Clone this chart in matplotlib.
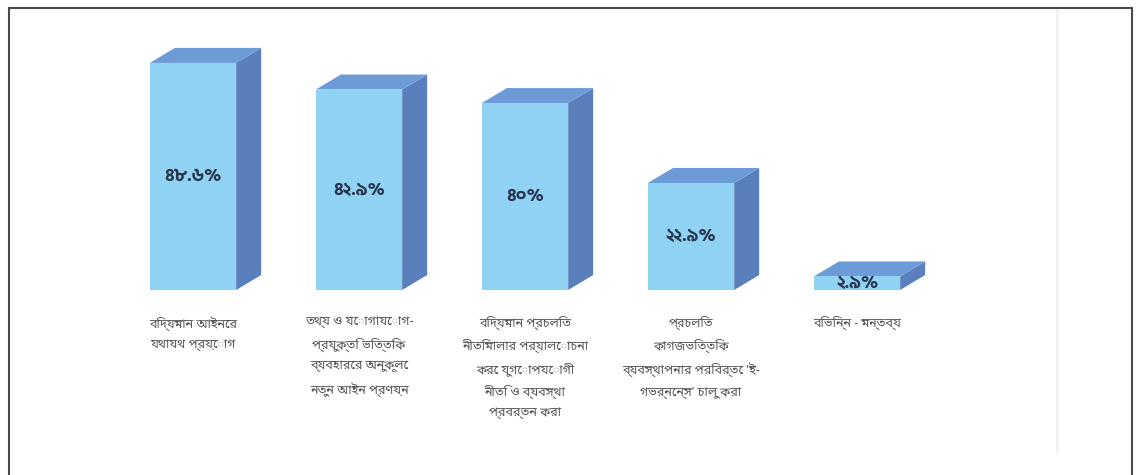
import matplotlib
matplotlib.use('Agg')
import matplotlib.pyplot as plt
from matplotlib.patches import Polygon, Rectangle

family = ['Noto Sans Bengali', 'DejaVu Sans']
bold_family = ['Hind Siliguri', 'Noto Sans Bengali', 'DejaVu Sans']

categories = [
    'বিদ্যমান আইনের\nযথাযথ প্রয়োগ',
    'তথ্য ও যোগাযোগ-\nপ্রযুক্তি ভিত্তিক\nব্যবহারের অনুকূলে\nনতুন আইন প্রণয়ন',
    'বিদ্যমান প্রচলিত\nনীতিমালার পর্যালোচনা\nকরে যুগোপযোগী\nনীতি ও ব্যবস্থা\nপ্রবর্তন করা',
    'প্রচলিত\nকাগজভিত্তিক\nব্যবস্থাপনার পরিবর্তে \'ই-\nগভর্নেন্স\' চালু করা',
    'বিভিন্ন - মন্তব্য',
]
values = [48.6, 42.9, 40.0, 22.9, 2.9]
value_labels = ['৪৮.৬%', '৪২.৯%', '৪০%', '২২.৯%', '২.৯%']

front_c = '#8fd2f3'
side_c = '#5a7fbd'
top_c = '#6c9bd7'

fig = plt.figure(figsize=(11.39, 4.75), dpi=100)
ax = fig.add_axes([110 / 1139, 185 / 475, 830 / 1139, 250 / 475])
ax.set_xlim(-0.5, 4.5)
ax.set_ylim(0, 53.5)
ax.axis('off')

w = 0.52
# depth of the 3d box, in data units (about 25 px right, 15 px up)
dx = 25 / 166
dy = 15 / (250 / 53.5)

for i, v in enumerate(values):
    x0, x1 = i - w / 2, i + w / 2
    ax.add_patch(Polygon([(x1, 0), (x1 + dx, dy), (x1 + dx, v + dy), (x1, v)],
                         closed=True, fc=side_c, ec='none'))
    ax.add_patch(Polygon([(x0, v), (x0 + dx, v + dy), (x1 + dx, v + dy), (x1, v)],
                         closed=True, fc=top_c, ec='none'))
    ax.add_patch(Rectangle((x0, 0), w, v, fc=front_c, ec='none'))
    ax.text(i, max(v / 2, 1.1), value_labels[i], ha='center', va='center',
            fontsize=13, fontweight='bold', color='#2a3550', family=bold_family)
    ax.text(i, -5.5, categories[i], ha='center', va='top', fontsize=9,
            color='#555555', linespacing=1.8, family=family)

# outer frame of the scanned figure
fig.add_artist(Rectangle((9 / 1139, -0.01), 1123 / 1139, 467 / 475 + 0.01,
                         transform=fig.transFigure, fill=False,
                         ec='#4a4a44', lw=1.5))
fig.add_artist(plt.Line2D([1057 / 1139, 1057 / 1139], [0.05, 0.98],
                          transform=fig.transFigure, color='#f0f0f0', lw=2))

fig.savefig('out.png', dpi=100)
